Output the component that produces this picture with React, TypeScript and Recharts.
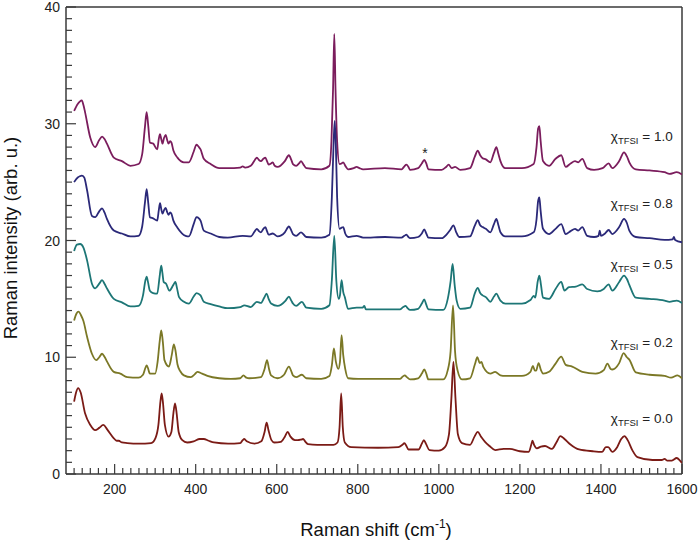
import React from 'react'
import {
  Line,
  LineChart,
  ReferenceDot,
  ReferenceLine,
  XAxis,
  YAxis,
  Label,
} from 'recharts'

// Raman spectra, offset per TFSI fraction. [shift cm-1, intensity]
const s10: number[][] = [
  [100, 31.1], [109, 31.7], [114, 31.9], [119, 32.0], [123, 31.6], [127, 31.0], [140, 28.8], [152, 28.0],
  [162, 28.6], [169, 28.9], [175, 28.7], [181, 28.3], [198, 27.1], [218, 26.8], [239, 26.4], [259, 26.55],
  [268, 27.4], [275, 29.8], [279, 31.0], [283, 29.8], [287, 28.4], [295, 28.3], [305, 27.8], [309, 28.7],
  [312, 29.1], [315, 28.7], [318, 28.3], [322, 28.8], [326, 29.05], [329, 28.7], [333, 28.3], [337, 28.5],
  [340, 28.4], [345, 27.7], [355, 27.1], [371, 26.7], [383, 26.7], [395, 27.6], [402, 28.2], [408, 28.0],
  [412, 27.8], [420, 27.0], [437, 26.55], [458, 26.2], [479, 26.2], [510, 26.25], [516, 26.35], [522, 26.25],
  [536, 26.4], [546, 26.9], [551, 27.1], [556, 26.9], [561, 26.8], [567, 27.0], [572, 27.1], [576, 26.8],
  [580, 26.5], [586, 26.6], [590, 26.7], [595, 26.4], [602, 26.3], [620, 26.8], [630, 27.3], [636, 26.9],
  [640, 26.55], [648, 26.4], [655, 26.6], [660, 26.8], [666, 26.5], [673, 26.2], [710, 26.1], [730, 26.4],
  [735, 28.5], [739, 33.0], [742, 37.7], [745, 33.0], [749, 28.5], [755, 26.55], [760, 26.6], [764, 26.7],
  [770, 26.35], [776, 26.1], [790, 26.2], [797, 26.3], [804, 26.2], [813, 26.1], [867, 26.2], [908, 26.1],
  [915, 26.35], [920, 26.5], [925, 26.3], [929, 26.05], [949, 26.2], [958, 26.6], [964, 26.9], [969, 26.6],
  [974, 26.1], [1007, 26.05], [1018, 26.3], [1024, 26.5], [1032, 26.2], [1040, 26.3], [1053, 26.05],
  [1077, 26.2], [1089, 27.2], [1096, 27.7], [1102, 27.3], [1108, 27.05], [1116, 26.95], [1127, 26.7],
  [1136, 27.5], [1142, 28.0], [1147, 27.4], [1152, 26.8], [1164, 26.2], [1205, 26.2], [1234, 26.55],
  [1241, 28.0], [1245, 29.6], [1248, 29.8], [1251, 28.6], [1257, 26.8], [1272, 26.4], [1288, 27.0],
  [1302, 27.3], [1313, 26.3], [1325, 26.6], [1336, 26.8], [1344, 26.7], [1354, 27.0], [1366, 26.2],
  [1383, 26.05], [1404, 26.2], [1419, 26.6], [1428, 26.2], [1445, 26.8], [1457, 27.55], [1464, 27.2],
  [1470, 26.7], [1486, 26.1], [1520, 26.0], [1557, 25.85], [1569, 25.7], [1587, 25.85], [1600, 25.65],
]

const s08: number[][] = [
  [100, 25.0], [109, 25.4], [114, 25.5], [119, 25.55], [125, 25.4], [132, 24.3], [144, 22.1], [152, 22.0],
  [162, 22.5], [169, 22.75], [175, 22.4], [181, 21.85], [198, 20.85], [218, 20.6], [239, 20.35], [259, 20.4],
  [268, 21.2], [275, 23.3], [279, 24.4], [283, 23.2], [287, 22.0], [295, 21.9], [305, 21.7], [309, 22.6],
  [312, 23.2], [315, 22.7], [318, 22.3], [322, 22.6], [326, 22.8], [329, 22.5], [333, 22.2], [337, 22.4],
  [340, 22.3], [345, 21.7], [355, 21.1], [375, 20.4], [383, 20.35], [395, 21.4], [402, 22.0], [408, 21.9],
  [412, 21.7], [420, 20.85], [437, 20.6], [458, 20.3], [479, 20.25], [516, 20.4], [536, 20.35], [546, 20.8],
  [551, 21.0], [556, 20.8], [561, 20.7], [567, 21.0], [572, 21.15], [576, 20.8], [580, 20.5], [590, 20.6],
  [602, 20.35], [620, 20.7], [630, 21.2], [636, 20.85], [640, 20.55], [648, 20.4], [660, 20.7], [673, 20.3],
  [710, 20.25], [730, 20.5], [736, 23.7], [740, 28.0], [743, 30.25], [746, 28.0], [749, 23.7], [755, 21.0],
  [760, 21.1], [764, 21.15], [769, 20.6], [776, 20.3], [797, 20.4], [813, 20.25], [867, 20.3], [908, 20.25],
  [915, 20.4], [920, 20.5], [925, 20.3], [929, 20.2], [949, 20.3], [958, 20.6], [964, 20.95], [969, 20.6],
  [974, 20.25], [1007, 20.2], [1020, 20.55], [1028, 20.9], [1036, 21.3], [1043, 20.7], [1050, 20.3],
  [1077, 20.35], [1089, 21.3], [1096, 21.75], [1102, 21.3], [1108, 21.15], [1116, 21.0], [1127, 20.7],
  [1136, 21.4], [1142, 21.85], [1147, 21.3], [1152, 20.7], [1164, 20.35], [1205, 20.35], [1234, 20.7],
  [1241, 21.8], [1245, 23.4], [1248, 23.7], [1251, 22.6], [1257, 21.0], [1272, 20.55], [1288, 21.0],
  [1302, 21.4], [1313, 20.55], [1325, 20.8], [1336, 21.0], [1344, 20.85], [1354, 21.15], [1366, 20.4],
  [1383, 20.3], [1394, 20.4], [1397, 20.85], [1400, 20.4], [1410, 20.6], [1419, 20.9], [1428, 20.55],
  [1445, 21.15], [1457, 21.85], [1464, 21.5], [1470, 20.85], [1486, 20.3], [1520, 20.2], [1557, 20.05],
  [1577, 20.1], [1580, 20.3], [1583, 20.05], [1600, 19.85],
]

const s05: number[][] = [
  [100, 19.1], [107, 19.65], [115, 19.7], [123, 19.4], [132, 18.3], [144, 16.3], [152, 15.9], [162, 16.3],
  [169, 16.6], [175, 16.3], [181, 15.9], [198, 15.0], [218, 14.7], [239, 14.35], [259, 14.4], [270, 15.3],
  [276, 16.6], [279, 16.9], [282, 16.5], [287, 15.7], [295, 15.5], [305, 15.45], [311, 16.9], [315, 17.85],
  [318, 17.2], [321, 16.45], [327, 16.3], [335, 15.7], [345, 16.2], [350, 16.45], [354, 15.9], [359, 15.15],
  [371, 14.75], [383, 14.6], [395, 15.2], [402, 15.5], [412, 15.3], [420, 14.75], [437, 14.55], [458, 14.35],
  [479, 14.2], [510, 14.3], [520, 14.45], [536, 14.3], [551, 14.75], [561, 14.65], [569, 15.1], [575, 15.45],
  [580, 15.0], [586, 14.6], [602, 14.4], [622, 14.85], [630, 15.2], [636, 14.85], [640, 14.6], [648, 14.4],
  [662, 14.75], [673, 14.25], [710, 14.15], [730, 14.45], [736, 16.6], [742, 20.4], [747, 16.6], [753, 15.0],
  [756, 15.3], [760, 16.6], [764, 15.6], [768, 15.15], [776, 14.15], [797, 14.25], [812, 14.25], [816, 14.4],
  [820, 14.1], [867, 14.1], [904, 14.1], [912, 14.3], [918, 14.4], [923, 14.2], [929, 14.05], [949, 14.15],
  [958, 14.6], [964, 14.95], [969, 14.5], [974, 14.1], [1011, 14.05], [1022, 15.0], [1029, 16.5], [1034, 18.0],
  [1039, 16.2], [1044, 14.85], [1053, 14.15], [1077, 14.25], [1089, 15.5], [1096, 15.95], [1102, 15.5],
  [1108, 15.3], [1116, 15.15], [1127, 14.75], [1136, 15.2], [1142, 15.45], [1148, 15.1], [1152, 14.85],
  [1164, 14.6], [1205, 14.6], [1226, 14.9], [1234, 15.25], [1238, 15.1], [1244, 16.5], [1248, 17.0],
  [1252, 16.2], [1257, 15.1], [1272, 15.0], [1288, 15.85], [1302, 16.45], [1310, 15.7], [1321, 16.0],
  [1338, 16.05], [1354, 16.25], [1366, 15.85], [1391, 15.65], [1407, 15.85], [1419, 16.25], [1428, 15.7],
  [1445, 16.45], [1457, 17.0], [1464, 16.7], [1470, 16.2], [1486, 15.1], [1520, 15.0], [1557, 14.85],
  [1569, 14.75], [1587, 14.85], [1600, 14.65],
]

const s02: number[][] = [
  [100, 13.15], [106, 13.75], [111, 13.9], [117, 13.6], [123, 13.1], [132, 11.75], [144, 10.3], [155, 9.75],
  [162, 10.0], [169, 10.3], [175, 10.05], [181, 9.65], [198, 8.75], [214, 8.6], [231, 8.3], [259, 8.25],
  [270, 8.5], [276, 9.1], [279, 9.3], [282, 9.1], [287, 8.6], [300, 8.6], [306, 9.6], [311, 11.3], [315, 12.3],
  [319, 11.3], [323, 9.75], [334, 9.2], [341, 10.2], [346, 11.1], [350, 10.6], [355, 9.4], [362, 8.8],
  [371, 8.45], [388, 8.3], [398, 8.55], [404, 8.75], [416, 8.6], [429, 8.4], [458, 8.2], [487, 8.15],
  [510, 8.2], [518, 8.45], [525, 8.25], [532, 8.2], [561, 8.3], [570, 9.0], [576, 9.75], [581, 9.0],
  [586, 8.45], [602, 8.2], [618, 8.5], [630, 9.2], [637, 8.7], [640, 8.45], [648, 8.3], [662, 8.5],
  [673, 8.2], [710, 8.15], [730, 8.4], [736, 9.3], [741, 10.75], [746, 9.6], [752, 9.0], [756, 9.6],
  [760, 11.9], [764, 10.2], [769, 9.0], [776, 8.2], [801, 8.15], [867, 8.15], [904, 8.15], [911, 8.35],
  [916, 8.45], [921, 8.3], [929, 8.1], [949, 8.2], [958, 8.6], [964, 8.95], [969, 8.6], [974, 8.1],
  [1011, 8.1], [1022, 8.9], [1029, 10.5], [1035, 14.45], [1040, 10.5], [1046, 8.9], [1057, 8.1],
  [1077, 8.2], [1089, 9.4], [1095, 10.0], [1101, 9.5], [1105, 9.6], [1110, 9.15], [1127, 8.6], [1139, 8.75],
  [1152, 8.45], [1164, 8.4], [1205, 8.4], [1226, 8.75], [1232, 9.25], [1237, 8.85], [1240, 8.85],
  [1246, 9.5], [1252, 8.9], [1257, 8.6], [1272, 8.75], [1288, 9.45], [1302, 10.05], [1313, 9.35],
  [1329, 9.2], [1354, 8.75], [1387, 8.6], [1407, 8.9], [1416, 9.45], [1424, 9.0], [1428, 8.95],
  [1445, 9.5], [1456, 10.35], [1464, 10.0], [1470, 9.8], [1486, 8.7], [1520, 8.5], [1557, 8.4],
  [1573, 8.25], [1589, 8.45], [1600, 8.2],
]

const s00: number[][] = [
  [100, 6.2], [105, 7.0], [110, 7.35], [116, 7.0], [127, 5.2], [140, 4.2], [152, 3.76], [162, 3.95],
  [172, 4.2], [182, 3.8], [197, 3.1], [205, 2.85], [210, 2.85], [218, 2.7], [231, 2.65], [260, 2.6],
  [290, 2.65], [301, 3.1], [308, 4.2], [313, 6.2], [316, 6.9], [319, 6.2], [324, 4.2], [333, 3.2],
  [340, 3.6], [345, 5.2], [349, 6.05], [353, 5.2], [358, 3.6], [367, 2.9], [379, 2.7], [395, 2.8],
  [410, 3.0], [420, 3.0], [432, 2.85], [445, 2.7], [480, 2.6], [510, 2.65], [516, 2.9], [520, 3.0],
  [526, 2.8], [545, 2.6], [562, 2.8], [570, 3.6], [575, 4.4], [580, 3.7], [587, 2.9], [594, 2.7],
  [610, 2.75], [620, 3.2], [627, 3.6], [634, 3.2], [645, 2.9], [652, 2.9], [660, 2.95], [665, 3.0],
  [670, 2.8], [677, 2.55], [700, 2.5], [740, 2.5], [750, 2.7], [755, 4.0], [759, 6.9], [763, 4.0],
  [768, 2.7], [784, 2.3], [850, 2.25], [900, 2.3], [910, 2.5], [915, 2.65], [920, 2.4], [925, 2.1],
  [950, 2.1], [958, 2.6], [963, 2.9], [968, 2.6], [977, 2.05], [1000, 2.0], [1015, 2.3], [1025, 3.4],
  [1031, 6.5], [1036, 9.6], [1041, 6.5], [1047, 3.4], [1057, 2.65], [1077, 2.5], [1088, 3.2], [1096, 3.6],
  [1104, 3.2], [1114, 2.75], [1125, 2.4], [1139, 2.05], [1160, 2.15], [1175, 2.15], [1200, 1.95],
  [1222, 1.9], [1228, 2.5], [1231, 2.85], [1235, 2.5], [1242, 2.2], [1252, 2.35], [1262, 2.4],
  [1279, 2.15], [1290, 2.7], [1300, 3.25], [1310, 3.0], [1324, 2.55], [1346, 2.1], [1380, 1.95],
  [1403, 1.9], [1412, 2.3], [1418, 2.3], [1428, 1.9], [1440, 2.3], [1450, 3.0], [1458, 3.25], [1466, 2.9],
  [1478, 2.0], [1490, 1.45], [1527, 1.2], [1550, 1.2], [1557, 1.3], [1563, 1.15], [1575, 1.15],
  [1587, 1.37], [1595, 1.15], [1600, 0.95],
]

const fractions = ['1.0', '0.8', '0.5', '0.2', '0.0']
const labelHeights = [28.55, 22.8, 17.6, 10.9, 4.35]
const labelShift = 1577
const starPos = [966, 27.1]

const xMajor = [200, 400, 600, 800, 1000, 1200, 1400, 1600]
const yMajor = [0, 10, 20, 30, 40]
const xTicks = Array.from({ length: 76 }, (_, i) => 100 + i * 20)
const yTicks = Array.from({ length: 41 }, (_, i) => i)

const series = [s10, s08, s05, s02, s00]
const colors = ['#7b1d5d', '#2b2979', '#1d7676', '#7b7826', '#7b1b16']

const AXIS = '#3a3a3a'
const FONT = '"Liberation Sans", Arial, Helvetica, sans-serif'

const toPoints = (arr: number[][]) => arr.map(([x, y]) => ({ x, y }))

function XTick(props: any) {
  const { x, y, payload } = props
  const major = xMajor.includes(payload.value)
  return (
    <g>
      <line x1={x} x2={x} y1={y} y2={y - (major ? 10 : 6)} stroke={AXIS} strokeWidth={1.2} />
      {major && (
        <text x={x} y={y + 20} textAnchor="middle" fontSize={14} fill="#222" fontFamily={FONT}>
          {payload.value}
        </text>
      )}
    </g>
  )
}

function YTick(props: any) {
  const { x, y, payload } = props
  const major = yMajor.includes(payload.value)
  return (
    <g>
      <line x1={x} x2={x + (major ? 10 : 6)} y1={y} y2={y} stroke={AXIS} strokeWidth={1.2} />
      {major && (
        <text x={x - 6} y={y + 5} textAnchor="end" fontSize={14} fill="#222" fontFamily={FONT}>
          {payload.value}
        </text>
      )}
    </g>
  )
}

function fractionLabel(text: string) {
  return (p: any) => (
    <text x={p.cx} y={p.cy} textAnchor="end" fontSize={13.5} fill="#222" fontFamily={FONT}>
      <tspan>χ</tspan>
      <tspan fontSize={9.5} dy={3}>TFSI</tspan>
      <tspan dy={-3}> = {text}</tspan>
    </text>
  )
}

export default function App() {
  return (
    <div style={{ position: 'absolute', left: 0, top: 0, background: '#fff' }}>
      <LineChart width={699} height={542} margin={{ top: 7, right: 17, bottom: 0, left: 0 }}>
        <XAxis
          dataKey="x"
          type="number"
          domain={[80, 1600]}
          ticks={xTicks}
          interval={0}
          tickSize={0}
          tickMargin={0}
          tickLine={false}
          tick={(p: any) => <XTick {...p} />}
          axisLine={{ stroke: AXIS, strokeWidth: 1.5 }}
          height={68}
          allowDataOverflow
        >
          <Label
            content={() => (
              <text x={376} y={536} textAnchor="middle" fontSize={18.5} fill="#111" fontFamily={FONT}>
                Raman shift  (cm
                <tspan fontSize={12} dy={-8}>-1</tspan>
                <tspan dy={8}>)</tspan>
              </text>
            )}
          />
        </XAxis>
        <YAxis
          type="number"
          domain={[0, 40]}
          ticks={yTicks}
          interval={0}
          tickSize={0}
          tickMargin={0}
          tickLine={false}
          tick={(p: any) => <YTick {...p} />}
          axisLine={{ stroke: AXIS, strokeWidth: 1.5 }}
          width={66}
          allowDataOverflow
        >
          <Label
            content={() => (
              <text
                x={17}
                y={238}
                transform="rotate(-90 17 238)"
                textAnchor="middle"
                fontSize={18.5}
                fill="#111"
                fontFamily={FONT}
              >
                Raman intensity (arb. u.)
              </text>
            )}
          />
        </YAxis>
        <ReferenceLine y={40} stroke={AXIS} strokeWidth={1.5} />
        <ReferenceLine x={1600} stroke={AXIS} strokeWidth={1.5} />
        {series.map((s, i) => (
          <Line
            key={fractions[i]}
            data={toPoints(s)}
            dataKey="y"
            type="monotone"
            stroke={colors[i]}
            strokeWidth={1.8}
            dot={false}
            activeDot={false}
            isAnimationActive={false}
          />
        ))}
        {fractions.map((f, i) => (
          <ReferenceDot key={'l' + f} x={labelShift} y={labelHeights[i]} r={0} shape={fractionLabel(f)} />
        ))}
        <ReferenceDot
          x={starPos[0]}
          y={starPos[1]}
          r={0}
          shape={(p: any) => (
            <text x={p.cx} y={p.cy} textAnchor="middle" fontSize={14} fill="#222" fontFamily={FONT}>
              *
            </text>
          )}
        />
      </LineChart>
    </div>
  )
}
